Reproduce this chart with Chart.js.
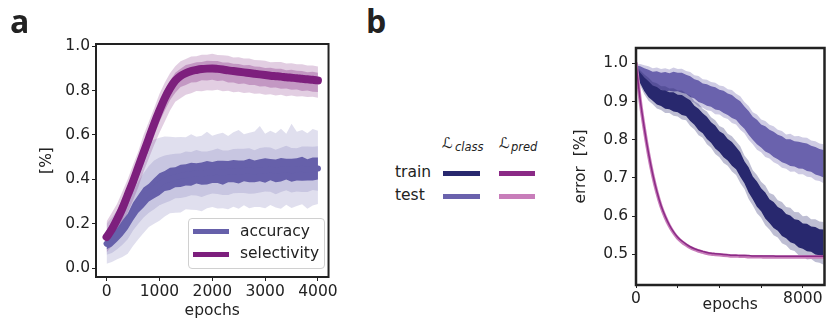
<!DOCTYPE html>
<html>
<head>
<meta charset="utf-8">
<script src="https://cdn.jsdelivr.net/npm/chart.js@4.4.1/dist/chart.umd.min.js"></script>
<style>
body { margin: 0; background: #fff; width: 826px; height: 323px; position: relative; overflow: hidden;
       font-family: 'DejaVu Sans', sans-serif; color: #222; }
.abs { position: absolute; white-space: nowrap; }
.letter { font-family: 'Open Sans', sans-serif; font-weight: 700; font-size: 32px; line-height: 32px; color: #222; }
.txt { font-size: 15.5px; line-height: 15.5px; }
.swatch { position: absolute; height: 5px; }
</style>
</head>
<body>
<canvas id="chartA" width="340" height="323" style="position:absolute;left:0;top:0"></canvas>
<canvas id="chartB" width="266" height="323" style="position:absolute;left:560px;top:0"></canvas>

<div class="abs letter" style="left:10px;top:4.6px">a</div>
<div class="abs letter" style="left:366px;top:4.6px">b</div>

<!-- legend of panel a -->
<div class="abs" style="left:188px;top:218px;width:137px;height:51px;box-sizing:border-box;border:1px solid #d0d0d0;border-radius:4px;background:rgba(255,255,255,0.8)"></div>
<div class="swatch" style="left:193px;top:228.5px;width:36px;background:#6660aa"></div>
<div class="swatch" style="left:193px;top:252px;width:36px;background:#7d1f7d"></div>
<div class="abs txt" style="left:240px;top:224px">accuracy</div>
<div class="abs txt" style="left:240px;top:246px">selectivity</div>

<!-- legend table of panel b -->
<div class="abs" style="left:442px;top:136.3px;font-size:15px;line-height:15px">ℒ</div>
<div class="abs" style="left:455px;top:142.3px;font-size:11.5px;line-height:11.5px;font-style:italic">class</div>
<div class="abs" style="left:499px;top:136.3px;font-size:15px;line-height:15px">ℒ</div>
<div class="abs" style="left:511px;top:142.3px;font-size:11.5px;line-height:11.5px;font-style:italic">pred</div>
<div class="abs txt" style="left:395px;top:165.2px">train</div>
<div class="abs txt" style="left:395px;top:187.9px">test</div>
<div class="swatch" style="left:443px;top:170.5px;width:37px;background:#28286e"></div>
<div class="swatch" style="left:499px;top:170.5px;width:36px;background:#8b2a86"></div>
<div class="swatch" style="left:443px;top:193.5px;width:37px;background:#6a62ad"></div>
<div class="swatch" style="left:499px;top:193.5px;width:36px;background:#c87dba"></div>

<script>
// ---------- panel a: accuracy / selectivity ----------
var epochsA = [0,100,200,300,400,500,600,700,800,900,1000,1100,1200,1300,1400,1500,1600,1700,1800,1900,2000,
               2100,2200,2300,2400,2500,2600,2700,2800,2900,3000,3100,3200,3300,3400,3500,3600,3700,3800,3900,4000];

var selMean = [0.14,0.175,0.22,0.27,0.33,0.39,0.455,0.52,0.585,0.65,0.71,0.765,0.81,0.845,0.866,0.879,0.888,0.893,0.897,0.899,
               0.9,0.898,0.895,0.891,0.888,0.885,0.882,0.879,0.876,0.873,0.87,0.867,0.865,0.863,0.86,0.858,0.856,0.853,0.851,0.849,0.846];
var selOutUp = [0.07,0.075,0.07,0.075,0.07,0.075,0.07,0.08,0.075,0.07,0.075,0.07,0.068,0.065,0.066,0.063,0.066,0.062,0.065,0.063,
                0.066,0.062,0.064,0.066,0.061,0.065,0.063,0.066,0.062,0.064,0.065,0.061,0.064,0.066,0.062,0.065,0.063,0.066,0.062,0.064,0.063];
var selOutDown = [0.07,0.075,0.08,0.085,0.08,0.085,0.09,0.085,0.09,0.095,0.1,0.105,0.1,0.095,0.1,0.098,0.1,0.095,0.1,0.097,
                  0.1,0.094,0.098,0.092,0.095,0.09,0.093,0.088,0.09,0.086,0.089,0.084,0.087,0.082,0.085,0.08,0.083,0.078,0.08,0.077,0.078];
var selInUp = [0.03,0.035,0.032,0.036,0.033,0.037,0.034,0.036,0.033,0.037,0.034,0.036,0.033,0.035,0.032,0.036,0.033,0.035,0.032,0.036,
               0.033,0.035,0.032,0.036,0.033,0.035,0.032,0.036,0.033,0.035,0.032,0.036,0.033,0.035,0.032,0.036,0.033,0.035,0.032,0.036,0.034];
var selInDown = [0.035,0.04,0.045,0.05,0.047,0.052,0.048,0.053,0.05,0.055,0.052,0.056,0.053,0.055,0.05,0.054,0.051,0.055,0.05,0.054,
                 0.051,0.055,0.05,0.054,0.051,0.055,0.05,0.054,0.051,0.055,0.05,0.054,0.051,0.055,0.05,0.054,0.051,0.055,0.05,0.054,0.052];

var accMean = [0.11,0.128,0.15,0.18,0.21,0.255,0.29,0.318,0.34,0.36,0.378,0.393,0.402,0.41,0.416,0.42,0.423,0.427,0.426,0.43,
               0.431,0.434,0.43,0.435,0.437,0.433,0.438,0.44,0.436,0.441,0.44,0.444,0.438,0.443,0.446,0.441,0.445,0.448,0.443,0.447,0.449];
var accDark = [0.025,0.03,0.03,0.035,0.035,0.04,0.04,0.045,0.04,0.045,0.05,0.045,0.05,0.045,0.05,0.048,0.052,0.046,0.05,0.053,
               0.047,0.05,0.054,0.048,0.05,0.052,0.047,0.053,0.049,0.05,0.055,0.048,0.051,0.053,0.047,0.052,0.05,0.054,0.048,0.052,0.05];
var accMidUp = [0.05,0.055,0.06,0.07,0.08,0.09,0.1,0.11,0.12,0.125,0.12,0.115,0.11,0.105,0.1,0.105,0.1,0.105,0.1,0.095,
                0.1,0.105,0.1,0.095,0.1,0.105,0.1,0.1,0.095,0.1,0.105,0.1,0.095,0.1,0.105,0.1,0.095,0.1,0.105,0.1,0.1];
var accMidDown = [0.05,0.06,0.065,0.075,0.08,0.085,0.09,0.09,0.09,0.095,0.095,0.1,0.1,0.095,0.1,0.1,0.095,0.1,0.105,0.1,
                  0.095,0.1,0.1,0.105,0.1,0.095,0.1,0.105,0.1,0.1,0.095,0.1,0.105,0.1,0.095,0.1,0.1,0.105,0.1,0.095,0.1];
var accOutUp = [0.09,0.1,0.11,0.13,0.15,0.17,0.19,0.21,0.22,0.22,0.21,0.2,0.19,0.18,0.175,0.17,0.18,0.165,0.17,0.185,
                0.165,0.17,0.18,0.16,0.175,0.19,0.165,0.17,0.18,0.2,0.165,0.175,0.17,0.185,0.16,0.21,0.17,0.175,0.165,0.18,0.17];
var accOutDown = [0.09,0.1,0.11,0.13,0.145,0.155,0.16,0.16,0.155,0.16,0.165,0.16,0.155,0.16,0.165,0.155,0.16,0.165,0.17,0.16,
                  0.155,0.165,0.16,0.17,0.16,0.165,0.155,0.17,0.16,0.165,0.17,0.16,0.165,0.175,0.16,0.17,0.165,0.16,0.175,0.165,0.16];

var xTicksA = [0,1000,2000,3000,4000];
var yTicksA = [0,0.2,0.4,0.6,0.8,1.0];

// ---------- panel b: error curves ----------
var epochsB = [0,200,400,600,800,1000,1200,1400,1600,1800,2000,2200,2400,2600,2800,3000,3200,3400,3600,3800,4000,
               4200,4400,4600,4800,5000,5200,5400,5600,5800,6000,6200,6400,6600,6800,7000,7200,7400,7600,7800,8000,
               8200,8400,8600,8800,9000];

var clsTrain = [0.99,0.962,0.945,0.932,0.922,0.915,0.909,0.905,0.902,0.899,0.895,0.891,0.886,0.876,0.864,0.853,0.843,0.831,0.819,0.807,
                0.795,0.785,0.774,0.763,0.752,0.735,0.715,0.695,0.674,0.658,0.643,0.628,0.613,0.603,0.593,0.583,0.574,0.567,0.56,0.554,
                0.548,0.544,0.54,0.536,0.532,0.529];
var trainDark = [0.004,0.014,0.018,0.021,0.02,0.023,0.021,0.024,0.022,0.025,0.023,0.026,0.024,0.027,0.025,0.028,0.026,0.029,0.027,0.03,
                 0.027,0.031,0.028,0.031,0.029,0.032,0.029,0.033,0.03,0.033,0.03,0.034,0.031,0.034,0.031,0.035,0.032,0.035,0.032,0.036,
                 0.033,0.036,0.033,0.036,0.034,0.036];
var trainLight = [0.006,0.02,0.026,0.03,0.029,0.033,0.031,0.035,0.032,0.036,0.034,0.038,0.035,0.04,0.037,0.041,0.038,0.043,0.04,0.044,
                  0.041,0.046,0.042,0.046,0.044,0.048,0.044,0.05,0.046,0.05,0.047,0.052,0.048,0.053,0.049,0.054,0.05,0.055,0.051,0.056,
                  0.052,0.057,0.052,0.056,0.054,0.056];

var clsTest = [0.99,0.978,0.968,0.961,0.957,0.955,0.953,0.952,0.951,0.952,0.951,0.949,0.945,0.939,0.933,0.927,0.921,0.917,0.913,0.908,
               0.904,0.899,0.893,0.887,0.88,0.87,0.858,0.844,0.83,0.82,0.81,0.802,0.795,0.788,0.781,0.775,0.769,0.766,0.763,0.76,
               0.758,0.754,0.75,0.745,0.741,0.737];
var testDark = [0.004,0.014,0.019,0.022,0.021,0.024,0.022,0.025,0.023,0.026,0.024,0.026,0.025,0.027,0.025,0.028,0.026,0.028,0.027,0.029,
                0.027,0.029,0.028,0.03,0.028,0.031,0.029,0.031,0.03,0.032,0.03,0.033,0.031,0.033,0.032,0.034,0.032,0.035,0.033,0.035,
                0.034,0.036,0.034,0.036,0.035,0.036];
var testLight = [0.006,0.02,0.027,0.031,0.03,0.034,0.032,0.035,0.033,0.037,0.034,0.037,0.035,0.038,0.036,0.04,0.037,0.04,0.038,0.041,
                 0.038,0.041,0.039,0.043,0.04,0.044,0.041,0.044,0.042,0.046,0.043,0.047,0.044,0.047,0.045,0.048,0.045,0.05,0.046,0.05,
                 0.048,0.051,0.048,0.051,0.049,0.051];

var predTrain = [1.0,0.905,0.83,0.765,0.71,0.665,0.628,0.6,0.577,0.559,0.545,0.535,0.527,0.52,0.515,0.511,0.508,0.505,0.503,0.502,
                 0.501,0.5,0.499,0.498,0.498,0.497,0.497,0.497,0.496,0.496,0.496,0.496,0.496,0.496,0.495,0.495,0.495,0.495,0.495,0.495,
                 0.495,0.495,0.495,0.495,0.495,0.495];
var predTest = [1.0,0.903,0.828,0.763,0.708,0.663,0.626,0.598,0.575,0.557,0.543,0.533,0.525,0.518,0.513,0.509,0.506,0.503,0.501,0.5,
                0.499,0.498,0.497,0.496,0.496,0.495,0.495,0.494,0.494,0.494,0.494,0.493,0.493,0.493,0.493,0.493,0.493,0.493,0.493,0.493,
                0.493,0.493,0.493,0.493,0.493,0.493];

var xTicksB = [0,2000,4000,6000,8000];
var yTicksB = [0.5,0.6,0.7,0.8,0.9,1.0];

// ---------- helpers ----------
function pts(xs, ys) {
    return xs.map(function (x, i) { return {x: x, y: ys[i]}; });
}
function shifted(ys, d, sign) {
    return ys.map(function (y, i) { return y + sign * d[i]; });
}
// upper edge fills down to the dataset that follows it
function band(xs, mid, up, down, color, order) {
    return [
        {data: pts(xs, shifted(mid, up, 1)), fill: '+1', backgroundColor: color,
         borderColor: 'transparent', borderWidth: 0, pointRadius: 0, order: order},
        {data: pts(xs, shifted(mid, down, -1)), fill: false,
         borderColor: 'transparent', borderWidth: 0, pointRadius: 0, order: order}
    ];
}
function line(xs, ys, color, width, order) {
    return {data: pts(xs, ys), fill: false, borderColor: color, borderWidth: width, pointRadius: 0,
            cubicInterpolationMode: 'monotone', borderCapStyle: 'round', order: order};
}

var framePlugin = {
    id: 'frame',
    afterDatasetsDraw: function (chart, args, opts) {
        var a = chart.chartArea, ctx = chart.ctx;
        ctx.save();
        ctx.strokeStyle = opts.color;
        ctx.lineWidth = opts.width;
        ctx.strokeRect(a.left, a.top, a.right - a.left, a.bottom - a.top);
        ctx.restore();
    }
};

var font = {family: 'DejaVu Sans', size: 15.5};

function axis(min, max, tickVals, fmt, fitSize, isX, title) {
    return {
        type: 'linear', min: min, max: max,
        afterBuildTicks: function (s) { s.ticks = tickVals.map(function (v) { return {value: v}; }); },
        afterFit: function (s) { if (isX) s.height = fitSize; else s.width = fitSize; },
        grid: {drawOnChartArea: false, drawTicks: true, tickLength: 4, tickColor: '#222', tickWidth: 1},
        border: {display: false},
        ticks: {padding: isX ? 2 : 2, autoSkip: false, maxRotation: 0, color: '#222', font: font, callback: fmt},
        title: {display: true, text: title, color: '#222', font: font, padding: 0}
    };
}

// ---------- chart a ----------
var dsA = []
    .concat(band(epochsA, accMean, accOutUp, accOutDown, 'rgba(102,96,170,0.2)', 10))
    .concat(band(epochsA, accMean, accMidUp, accMidDown, 'rgba(102,96,170,0.2)', 9))
    .concat(band(epochsA, selMean, selOutUp, selOutDown, 'rgba(125,30,125,0.22)', 8))
    .concat(band(epochsA, selMean, selInUp, selInDown, 'rgba(125,30,125,0.3)', 7))
    .concat(band(epochsA, accMean, accDark, accDark, '#6660aa', 6));
dsA.push(line(epochsA, accMean, '#6660aa', 6, 5));
dsA.push(line(epochsA, selMean, '#7d1f7d', 8, 4));

new Chart(document.getElementById('chartA').getContext('2d'), {
    type: 'line',
    data: {datasets: dsA},
    options: {
        responsive: false, animation: false,
        layout: {padding: {left: 37.7, top: 44, right: 7, bottom: 2.7}},
        plugins: {legend: {display: false}, tooltip: {enabled: false}, frame: {color: '#222', width: 2}},
        scales: {
            x: axis(-200, 4200, xTicksA, function (v) { return String(v); }, 43.3, true, 'epochs'),
            y: axis(-0.04, 1.01, yTicksA, function (v) { return v.toFixed(1); }, 58.3, false, '[%]')
        }
    },
    plugins: [framePlugin]
});

// ---------- chart b ----------
var dsB = []
    .concat(band(epochsB, clsTest, testLight, testLight, 'rgba(105,95,170,0.32)', 10))
    .concat(band(epochsB, clsTest, testDark, testDark, '#6a62ad', 9))
    .concat(band(epochsB, clsTrain, trainLight, trainLight, 'rgba(40,40,110,0.3)', 8))
    .concat(band(epochsB, clsTrain, trainDark, trainDark, '#28286e', 7));
dsB.push(line(epochsB, predTest, '#c87dba', 3.5, 5));
dsB.push(line(epochsB, predTrain, '#8b2a86', 1.5, 4));

var yB = axis(0.42, 1.04, yTicksB, function (v) { return v.toFixed(1); }, 64.3, false, 'error  [%]');
yB.ticks.padding = 4;
var xB = axis(0, 9040, xTicksB, function (v) { return (v === 0 || v === 8000) ? String(v) : ''; }, 29.3, true, 'epochs');
xB.grid.tickLength = 3;

new Chart(document.getElementById('chartB').getContext('2d'), {
    type: 'line',
    data: {datasets: dsB},
    options: {
        responsive: false, animation: false,
        layout: {padding: {left: 11.7, top: 48, right: 1.5, bottom: 8.7}},
        plugins: {legend: {display: false}, tooltip: {enabled: false}, frame: {color: '#222', width: 2.5}},
        scales: {x: xB, y: yB}
    },
    plugins: [framePlugin]
});
</script>
</body>
</html>
